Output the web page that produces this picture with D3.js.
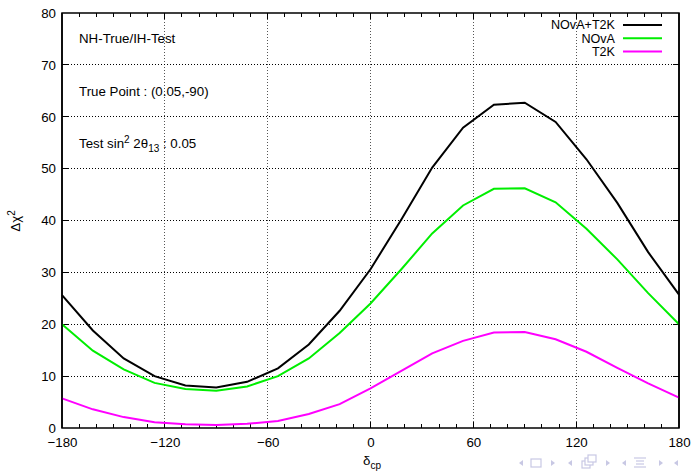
<!DOCTYPE html>
<html><head><meta charset="utf-8">
<script src="https://cdn.jsdelivr.net/npm/d3@7"></script>
<style>body{margin:0;background:#fff}svg{display:block}text{font-family:"Liberation Sans",Arial,Helvetica,sans-serif}</style>
</head><body>
<script>
const deltaCP = [-180,-162,-144,-126,-108,-90,-72,-54,-36,-18,0,18,36,54,72,90,108,126,144,162,180];
const novaT2K = [25.6,18.8,13.4,10.0,8.2,7.8,8.9,11.5,16.1,22.6,30.6,40.2,50.2,57.9,62.3,62.7,59.0,51.8,43.4,33.9,25.7];
const nova    = [20.0,14.9,11.3,8.7,7.5,7.2,8.0,10.0,13.4,18.3,24.0,30.6,37.5,42.9,46.1,46.2,43.5,38.4,32.5,26.0,20.0];
const t2k     = [5.7,3.6,2.1,1.1,0.7,0.6,0.8,1.35,2.7,4.6,7.65,11.0,14.4,16.8,18.4,18.5,17.1,14.7,11.6,8.6,5.85];
const seriesNames = ["NOvA+T2K","NOvA","T2K"];
const seriesColors = ["#000000","#00ee00","#ff00ff"];
const xTicks = [-180,-120,-60,0,60,120,180];
const yTicks = [0,10,20,30,40,50,60,70,80];

const W=693,H=471;
const m={l:62,r:14,t:13,b:43};
const svg=d3.select("body").append("svg").attr("width",W).attr("height",H);
const x=d3.scaleLinear().domain([-180,180]).range([m.l,W-m.r]);
const y=d3.scaleLinear().domain([0,80]).range([H-m.b,m.t]);
const x0=x(-180),x1=x(180),y0=y(0),y1=y(80);

// grid
const g=svg.append("g");
xTicks.slice(1,-1).forEach(v=>g.append("line").attr("x1",x(v)).attr("x2",x(v)).attr("y1",y0).attr("y2",y1)
  .attr("stroke","#555").attr("stroke-width",1).attr("stroke-dasharray","1,2").attr("shape-rendering","crispEdges"));
yTicks.slice(1,-1).forEach(v=>g.append("line").attr("x1",x0).attr("x2",x1).attr("y1",y(v)).attr("y2",y(v))
  .attr("stroke","#000").attr("stroke-width",1).attr("stroke-dasharray","1,2").attr("shape-rendering","crispEdges"));

// axes
const fs=13.3;
const xa=d3.axisBottom(x).tickValues(xTicks).tickSize(0).tickPadding(6).tickFormat(d3.format("d"));
svg.append("g").attr("transform",`translate(0,${y0})`).call(xa).call(s=>{s.select(".domain").remove();
  s.selectAll("text").attr("font-size",fs).attr("fill","#000").attr("dy","0.95em");});
const ya=d3.axisLeft(y).tickValues(yTicks).tickSize(0).tickPadding(6);
svg.append("g").attr("transform",`translate(${x0},0)`).call(ya).call(s=>{s.select(".domain").remove();
  s.selectAll("text").attr("font-size",fs).attr("fill","#000");});

// ticks
const tk=svg.append("g").attr("stroke","#000").attr("stroke-width",1).attr("shape-rendering","crispEdges");
d3.range(-170,180,10).forEach(v=>{
  const L = xTicks.includes(v)?6:4;
  tk.append("line").attr("x1",x(v)).attr("x2",x(v)).attr("y1",y0).attr("y2",y0-L);
  tk.append("line").attr("x1",x(v)).attr("x2",x(v)).attr("y1",y1).attr("y2",y1+L);
});
yTicks.slice(1,-1).forEach(v=>{
  tk.append("line").attr("x1",x0).attr("x2",x0+6).attr("y1",y(v)).attr("y2",y(v));
  tk.append("line").attr("x1",x1).attr("x2",x1-6).attr("y1",y(v)).attr("y2",y(v));
});
svg.append("rect").attr("x",x0).attr("y",y1).attr("width",x1-x0).attr("height",y0-y1)
  .attr("fill","none").attr("stroke","#000").attr("stroke-width",1.5);

// lines
const data=[novaT2K,nova,t2k];
const line=d3.line().x((d,i)=>x(deltaCP[i])).y(d=>y(d));
data.forEach((s,k)=>svg.append("path").datum(s).attr("d",line).attr("fill","none")
  .attr("stroke",seriesColors[k]).attr("stroke-width",2).attr("stroke-linejoin","miter"));
svg.append("line").attr("x1",x0).attr("x2",x0).attr("y1",y1).attr("y2",y0).attr("stroke","#000").attr("stroke-width",1.5);
svg.append("line").attr("x1",x1).attr("x2",x1).attr("y1",y1).attr("y2",y0).attr("stroke","#000").attr("stroke-width",1.5);

// legend
const lg=svg.append("g");
seriesNames.forEach((n,k)=>{
  const yy=25+k*13.3;
  lg.append("text").attr("x",615).attr("y",yy).attr("dy","0.35em").attr("text-anchor","end").attr("font-size",12.6).text(n);
  lg.append("line").attr("x1",623).attr("x2",662).attr("y1",yy).attr("y2",yy).attr("stroke",seriesColors[k]).attr("stroke-width",2);
});

// annotations
svg.append("text").attr("x",79).attr("y",43).attr("font-size",fs).text("NH-True/IH-Test");
svg.append("text").attr("x",79).attr("y",96).attr("font-size",fs).text("True Point : (0.05,-90)");
const t3=svg.append("text").attr("x",79).attr("y",148).attr("font-size",fs);
t3.append("tspan").text("Test sin");
t3.append("tspan").attr("dy",-5).attr("font-size",10).text("2");
t3.append("tspan").attr("dy",5).text(" 2θ");
t3.append("tspan").attr("dy",4).attr("font-size",10).text("13");
t3.append("tspan").attr("dy",-4).text(" : 0.05");

// axis labels
const yl=svg.append("text").attr("transform","translate(20,221) rotate(-90)").attr("text-anchor","middle").attr("font-size",fs);
yl.append("tspan").text("Δχ");
yl.append("tspan").attr("dy",-5).attr("font-size",10).text("2");
const xl=svg.append("text").attr("x",363).attr("y",465).attr("font-size",fs);
xl.append("tspan").text("δ");
xl.append("tspan").attr("dy",4).attr("font-size",10).text("cp");

// beamer navigation symbols
const nc="#c8c8e4";
const nav=svg.append("g").attr("fill",nc).attr("stroke",nc);
const cy=463;
const triL=cx=>nav.append("path").attr("d",`M${cx+2},${cy-3}L${cx-2},${cy}L${cx+2},${cy+3}Z`).attr("stroke","none");
const triR=cx=>nav.append("path").attr("d",`M${cx-2},${cy-3}L${cx+2},${cy}L${cx-2},${cy+3}Z`).attr("stroke","none");
triL(521); nav.append("rect").attr("x",531).attr("y",cy-4).attr("width",10).attr("height",8).attr("fill","none").attr("stroke-width",1.2); triR(553);
triL(570);
nav.append("rect").attr("x",582).attr("y",cy-2).attr("width",8).attr("height",7).attr("fill","none").attr("stroke-width",1.2);
nav.append("rect").attr("x",585).attr("y",cy-5).attr("width",8).attr("height",7).attr("fill","#fff").attr("stroke-width",1.2);
nav.append("rect").attr("x",588).attr("y",cy-8).attr("width",8).attr("height",7).attr("fill","#fff").attr("stroke-width",1.2);
triR(608);
triL(624);
[-5,-2,1,4].forEach((d,i)=>nav.append("line").attr("x1",i%3?636:634).attr("x2",i%3?644:646).attr("y1",cy+d).attr("y2",cy+d).attr("stroke-width",1.2));
triR(661);
triL(676);
</script>
</body></html>
